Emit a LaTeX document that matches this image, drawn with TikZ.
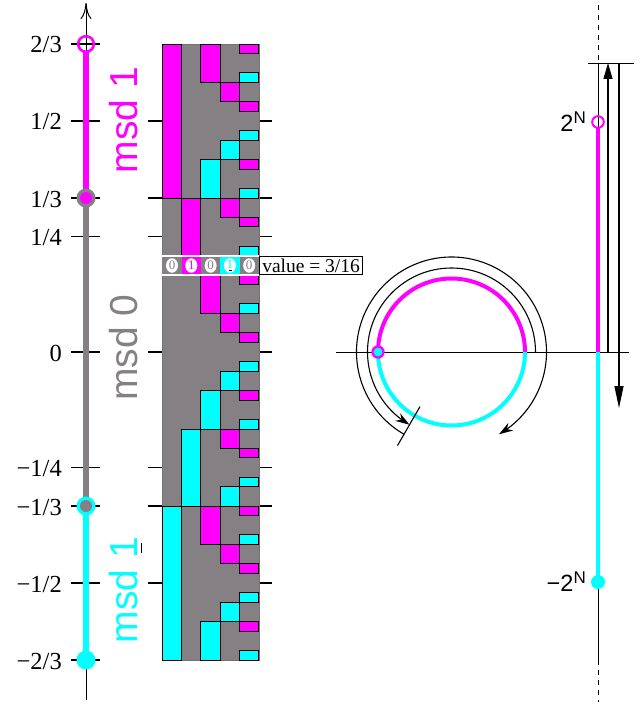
\documentclass[tikz,border=0pt]{standalone}
\usepackage{fontspec}
\setmainfont{Liberation Serif}
\setsansfont{Liberation Sans}
\usetikzlibrary{arrows.meta,bending,shapes.geometric}
\definecolor{mag}{RGB}{255,0,255}
\definecolor{cya}{RGB}{0,255,255}
\definecolor{gry}{RGB}{132,128,132}
\newcommand{\fs}[1]{\fontsize{#1bp}{#1bp}\selectfont}
\newcommand{\ubarone}{\makebox[0pt][l]{\hspace{0.15em}\textcolor{black}{\rule[-0.13em]{0.26em}{0.04em}}}1}
\newcommand{\gcell}[4]{\filldraw[fill=#4,draw=black,line width=0.9bp] ({162.3+19.3*(#1-1)},#2) rectangle ({162.3+19.3*#1},#3);}
\begin{document}
\begin{tikzpicture}[x=1bp,y=-1bp,
  tickline/.style={line width=1.6bp},
  thinline/.style={line width=0.9bp},
  ticklabel/.style={anchor=base east,font=\fs{24.5},inner sep=0},
  msdlabel/.style={rotate=90,anchor=base,font=\sffamily\fs{39},inner sep=0},
  powlabel/.style={anchor=base east,font=\sffamily\fs{23.5},inner sep=0},
  digit/.style={ellipse,fill=white,minimum width=12bp,minimum height=14.5bp,inner sep=0,font=\fs{13}},
  arcarrow/.style={line width=1.1bp,-{Stealth[length=14bp,width=9bp]}}]
\useasboundingbox (0,0) rectangle (644,707);

% ---------- left axis ----------
\coordinate (axb) at (86,700);
\coordinate (axt) at (86,3);
\draw[line width=1bp,-{To[length=16bp,width=11bp]}] (axb) -- (axt);
\foreach \i/\y/\lab in {1/44/{2/3},2/121/{1/2},3/198/{1/3},4/236.5/{1/4},5/352/{0},6/467.5/{−1/4},7/506/{−1/3},8/583/{−1/2},9/660/{−2/3}}{
  \draw[tickline] (71,\y) -- (100,\y);
  \node[ticklabel] (lab\i) at (62,{\y+9}) {\lab};
}
\draw[mag,line width=5.5bp] (86,52) -- (86,198);
\draw[gry,line width=5.5bp] (86,198) -- (86,506);
\draw[cya,line width=5.5bp] (86,506) -- (86,660);
\draw[mag,line width=2.6bp] (86,44) circle[radius=7.8bp];
\fill[gry] (86,198) circle[radius=9.5bp];
\fill[mag] (86,198) circle[radius=6bp];
\fill[cya] (86,506) circle[radius=9.5bp];
\fill[gry] (86,506) circle[radius=6bp];
\fill[cya] (86,660) circle[radius=9.5bp];

\node[msdlabel,text=mag] (msdA) at (137,120) {msd 1};
\node[msdlabel,text=gry] (msdB) at (137,347.5) {msd 0};
\node[msdlabel,text=cya] (msdC) at (137,590) {msd \ubarone};

% ---------- grid ticks ----------
\foreach \y in {121,198,236.5,352,467.5,506,583}{
  \draw[tickline] (148,\y) -- (162.3,\y);
  \draw[tickline] (258.8,\y) -- (272,\y);
}

% ---------- digit grid ----------
\begin{scope}[shift={(0,352)},y=9.625bp]
\filldraw[fill=gry,draw=black!55,line width=0.5bp] (162.3,-32) rectangle (258.8,32);
\foreach \k/\a/\b/\c in {
  1/16/32/mag, 1/-32/-16/cya,
  2/8/16/mag, 2/-16/-8/cya,
  3/28/32/mag, 3/16/20/cya, 3/4/8/mag, 3/-8/-4/cya, 3/-20/-16/mag, 3/-32/-28/cya,
  4/26/28/mag, 4/20/22/cya, 4/14/16/mag, 4/8/10/cya, 4/2/4/mag, 4/-4/-2/cya,
  4/-10/-8/mag, 4/-16/-14/cya, 4/-22/-20/mag, 4/-28/-26/cya,
  5/31/32/mag, 5/28/29/cya, 5/25/26/mag, 5/22/23/cya, 5/19/20/mag, 5/16/17/cya,
  5/13/14/mag, 5/10/11/cya, 5/7/8/mag, 5/4/5/cya, 5/1/2/mag, 5/-2/-1/cya,
  5/-5/-4/mag, 5/-8/-7/cya, 5/-11/-10/mag, 5/-14/-13/cya, 5/-17/-16/mag,
  5/-20/-19/cya, 5/-23/-22/mag, 5/-26/-25/cya, 5/-29/-28/mag, 5/-32/-31/cya}{
  \gcell{\k}{\a}{\b}{\c}
}
\end{scope}

% ---------- value row ----------
\foreach \k/\c in {1/gry,2/mag,3/gry,4/cya,5/gry}{
  \fill[\c] ({162.3+19.3*(\k-1)},255.2) rectangle ({162.3+19.3*\k},275.6);
}
\draw[white,line width=1.8bp] (162.3,256.2) -- (258.8,256.2);
\draw[white,line width=1.8bp] (162.3,274.7) -- (258.8,274.7);
\node[digit,text=gry] (d1) at (172,265.5) {0};
\node[digit,text=mag] (d2) at (191.3,265.5) {1};
\node[digit,text=gry] (d3) at (210.6,265.5) {0};
\node[digit,text=cya] (d4) at (229.9,265.5) {\ubarone};
\node[digit,text=gry] (d5) at (249.2,265.5) {0};
\node[draw=black,fill=white,line width=0.9bp,anchor=west,inner xsep=3bp,inner ysep=0,
      minimum height=18.6bp,font=\fs{19.5}] (val) at (258.8,265.5) {value = 3/16};

% ---------- right axis ----------
\coordinate (rt) at (598,5);
\coordinate (rtop) at (598,63);
\coordinate (rbot) at (598,660);
\coordinate (rb) at (598,702);
\draw[thinline,dash pattern=on 5bp off 5bp] (rt) -- (rtop);
\draw[thinline] (rtop) -- (rbot);
\draw[thinline,dash pattern=on 5bp off 5bp] (rbot) -- (rb);
\coordinate (hl) at (588,63);
\coordinate (hr) at (634,63);
\draw[thinline] (hl) -- (hr);
\coordinate (zl) at (336,352);
\coordinate (zr) at (629,352);
\draw[thinline] (zl) -- (zr);
\draw[mag,line width=4bp] (598,128) -- (598,352);
\draw[cya,line width=4bp] (598,352) -- (598,582);
\draw[mag,line width=2bp] (598,122) circle[radius=5.8bp];
\fill[cya] (598,582) circle[radius=7bp];
\coordinate (ua) at (608,352);
\coordinate (ub) at (608,63);
\draw[line width=1.1bp,-{Triangle[length=16bp,width=9bp]}] (ua) -- (ub);
\coordinate (da) at (619,63);
\coordinate (db) at (619,408);
\draw[line width=1.1bp,-{Triangle[length=22bp,width=9bp]}] (da) -- (db);
\node[powlabel] (pN) at (586,131.5) {2\raisebox{8bp}{\fs{17}N}};
\node[powlabel] (mN) at (586,591.5) {−2\raisebox{8bp}{\fs{17}N}};

% ---------- circle ----------
\coordinate (C) at (451.5,352);
\draw[mag,line width=4bp] ([shift={(0:73.5bp)}]C) arc[start angle=0,end angle=180,radius=73.5bp];
\draw[cya,line width=4bp] ([shift={(180:73.5bp)}]C) arc[start angle=180,end angle=360,radius=73.5bp];
\fill[mag] ([shift={(180:73.5bp)}]C) circle[radius=6.7bp];
\fill[cya] ([shift={(180:73.5bp)}]C) circle[radius=4.3bp];
\draw[line width=1.1bp] ([shift={(240:63bp)}]C) -- ([shift={(240:108bp)}]C);
\draw[arcarrow] ([shift={(0:84bp)}]C) arc[start angle=0,end angle=240,radius=84bp];
\draw[arcarrow] ([shift={(240:95bp)}]C) arc[start angle=240,end angle=-60,radius=95bp];
\end{tikzpicture}
\end{document}
